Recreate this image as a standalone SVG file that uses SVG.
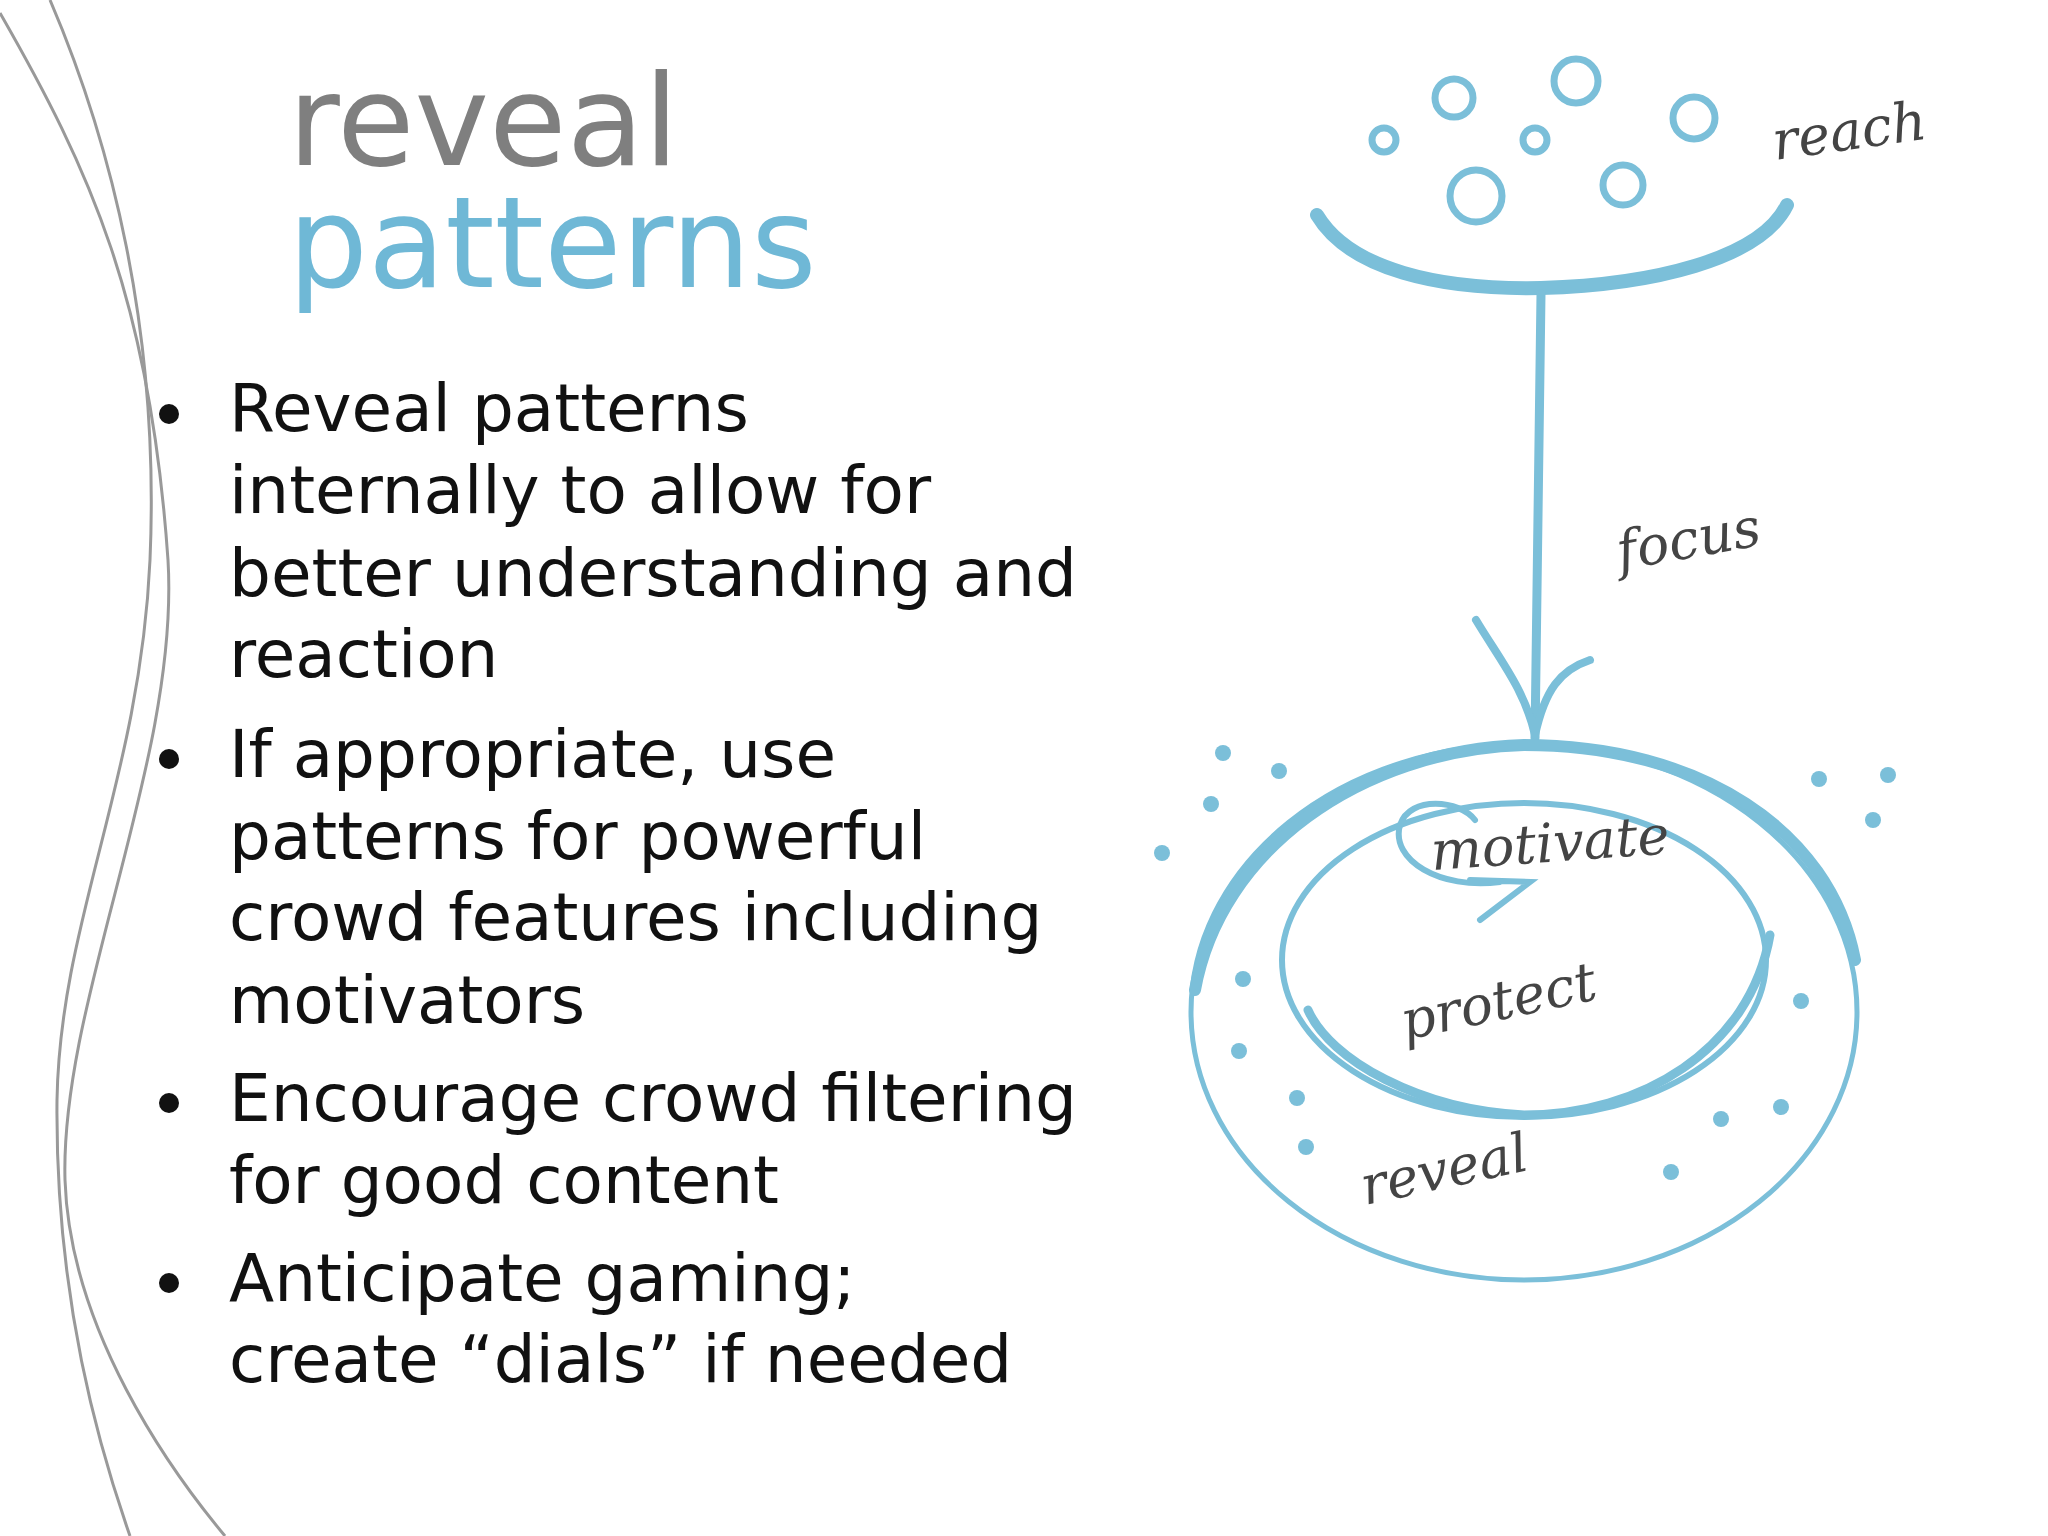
<svg xmlns="http://www.w3.org/2000/svg" width="2048" height="1536" viewBox="0 0 2048 1536">
<style>
.b{font-family:"DejaVu Sans",Verdana,sans-serif;font-size:66px;fill:#111}
.h{font-family:"DejaVu Serif",serif;font-style:italic;font-size:54px;fill:#444}
.bl{fill:none;stroke:#7bbfd9;stroke-linecap:round}
.dot{fill:#7bbfd9}
.g{fill:none;stroke:#999;stroke-width:3}
</style>
<rect width="2048" height="1536" fill="#fff"/>
<g id="curves">
<path class="g" d="M0,13 C90,170 150,300 168,560 C180,760 60,1000 65,1180 C70,1330 170,1470 225,1536"/>
<path class="g" d="M50,0 C110,140 160,330 150,560 C140,780 60,920 57,1100 C55,1300 100,1450 130,1536"/>
</g>
<g id="title">
<text x="288" y="165" font-family="DejaVu Sans,sans-serif" font-size="126" fill="#7f7f7f">reveal</text>
<text x="288" y="287" font-family="DejaVu Sans,sans-serif" font-size="126" fill="#6fb8d6">patterns</text>
</g>
<g id="bullets" class="b">
<circle cx="169" cy="414" r="10" fill="#111"/><circle cx="169" cy="759" r="10" fill="#111"/><circle cx="169" cy="1103" r="10" fill="#111"/><circle cx="169" cy="1283" r="10" fill="#111"/>
<text x="229" y="431">Reveal patterns</text>
<text x="229" y="513">internally to allow for</text>
<text x="229" y="596">better understanding and</text>
<text x="229" y="677">reaction</text>
<text x="229" y="777">If appropriate, use</text>
<text x="229" y="859">patterns for powerful</text>
<text x="229" y="940">crowd features including</text>
<text x="229" y="1023">motivators</text>
<text x="229" y="1121">Encourage crowd filtering</text>
<text x="229" y="1203">for good content</text>
<text x="229" y="1301">Anticipate gaming;</text>
<text x="229" y="1382">create “dials” if needed</text>
</g>
<g id="reach">
<g class="bl" stroke-width="7">
<circle cx="1454" cy="98" r="19"/><circle cx="1576" cy="81" r="22"/><circle cx="1694" cy="118" r="21"/>
<circle cx="1384" cy="140" r="12"/><circle cx="1535" cy="140" r="12"/><circle cx="1476" cy="196" r="26"/><circle cx="1623" cy="185" r="20"/>
</g>
<path class="bl" stroke-width="14" d="M1317,215 C1350,270 1440,290 1541,288 C1650,285 1760,260 1787,205"/>
<text class="h" x="1775" y="160" transform="rotate(-8 1775 160)">reach</text>
</g>
<g id="connectors">
<path class="bl" stroke-width="9" d="M1541,294 L1535,738"/>
<path class="bl" stroke-width="8" d="M1476,620 C1500,660 1525,690 1535,735 M1590,660 C1560,670 1545,690 1535,735"/>
</g>
<g id="focus"><text class="h" x="1620" y="570" transform="rotate(-10 1620 570)">focus</text></g>
<g id="rings">
<ellipse class="bl" stroke-width="5" cx="1524" cy="1012" rx="333" ry="268"/>
<path class="bl" stroke-width="12" d="M1195,990 C1220,850 1360,750 1524,745 C1700,745 1830,830 1855,960"/>
<ellipse class="bl" stroke-width="6" cx="1524" cy="960" rx="242" ry="157"/>
<path class="bl" stroke-width="9" d="M1308,1010 C1330,1060 1420,1110 1524,1115 C1640,1115 1750,1050 1770,935"/>
<path class="bl" stroke-width="6" d="M1500,882 C1440,890 1390,860 1400,825 C1410,795 1460,800 1475,820 M1470,880 L1530,882 L1480,920"/>
<text class="h" x="1432" y="870" transform="rotate(-4 1432 870)">motivate</text>
<text class="h" x="1405" y="1040" font-size="62" transform="rotate(-12 1405 1040)">protect</text>
<text class="h" x="1365" y="1205" font-size="60" transform="rotate(-12 1365 1205)">reveal</text>
<g class="dot">
<circle cx="1223" cy="753" r="8"/><circle cx="1279" cy="771" r="8"/><circle cx="1211" cy="804" r="8"/><circle cx="1162" cy="853" r="8"/>
<circle cx="1243" cy="979" r="8"/><circle cx="1239" cy="1051" r="8"/><circle cx="1297" cy="1098" r="8"/><circle cx="1306" cy="1147" r="8"/>
<circle cx="1819" cy="779" r="8"/><circle cx="1888" cy="775" r="8"/><circle cx="1873" cy="820" r="8"/><circle cx="1801" cy="1001" r="8"/>
<circle cx="1721" cy="1119" r="8"/><circle cx="1781" cy="1107" r="8"/><circle cx="1671" cy="1172" r="8"/>
</g>
</g>
</svg>
